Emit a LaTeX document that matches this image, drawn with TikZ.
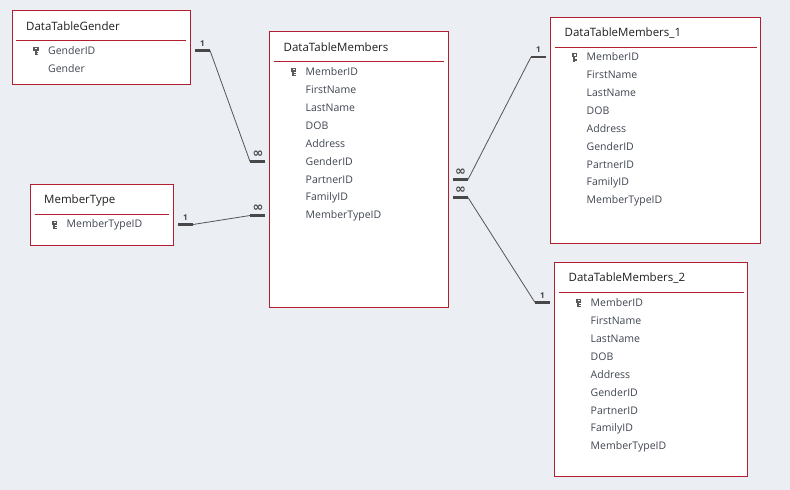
\documentclass[tikz,border=0pt]{standalone}
\usepackage{fontspec}
\setmainfont{Open Sans}
\newfontfamily\symfont{DejaVu Sans}
\usetikzlibrary{positioning}

\definecolor{canvas}{HTML}{EBEEF2}
\definecolor{frame}{HTML}{B01E30}
\definecolor{linkgray}{HTML}{555555}
\definecolor{fieldtext}{HTML}{404652}

\tikzset{
  tablebox/.style={draw=frame, fill=white, line width=0.9pt},
  tabletitle/.style={anchor=west, inner sep=0pt, text=black!88,
    font=\fontsize{11.5}{13}\selectfont},
  fieldname/.style={anchor=west, inner sep=0pt, text=fieldtext,
    font=\fontsize{10.5}{12}\selectfont},
  rule/.style={draw=frame, line width=0.8pt},
  relbar/.style={draw=linkgray!85!black, line width=2.6pt},
  relline/.style={draw=linkgray, line width=0.8pt},
  cardone/.style={anchor=south, inner sep=0pt, text=linkgray!80!black,
    font=\bfseries\fontsize{8}{8}\selectfont},
  cardmany/.style={anchor=south, inner sep=0pt, text=linkgray!80!black,
    font=\symfont\bfseries\fontsize{13}{13}\selectfont},
  keyicon/.pic={
    \fill[black!65] (-2.6,-4) rectangle (2.6,0);
    \fill[white] (-1,-2.9) rectangle (1,-1.2);
    \fill[black!65] (-1.2,0) rectangle (0.7,4.5);
    \fill[black!65] (0.7,1.5) rectangle (2,2.4);
    \fill[black!65] (0.7,3.2) rectangle (2,4.1);
  }
}

\begin{document}
\begin{tikzpicture}[x=1pt, y=-1pt]

	\fill[canvas] (0,0) rectangle (790,490);
	\useasboundingbox (0,0) rectangle (790,490);

	% DataTableGender
	\draw[tablebox] (12,10.5) rectangle (190,84) node[midway, inner sep=0pt] (gender) {};
	\node[tabletitle] (gender-title) at (26,26.5) {DataTableGender};
	\draw[rule] (16,40.5) -- (186,40.5);
	\pic at (36,50.5) {keyicon};
	\foreach \f [count=\i from 0] in {GenderID, Gender}
		\node[fieldname] (gender-\i) at (48,50.5+18*\i) {\f};

	% MemberType
	\draw[tablebox] (30.5,184.5) rectangle (173,245) node[midway, inner sep=0pt] (mtype) {};
	\node[tabletitle] (mtype-title) at (44,200.5) {MemberType};
	\draw[rule] (34.5,214.5) -- (169,214.5);
	\pic at (54.5,224.5) {keyicon};
	\node[fieldname] (mtype-0) at (66.5,224.5) {MemberTypeID};

	% DataTableMembers
	\draw[tablebox] (269.5,31.5) rectangle (448,307) node[midway, inner sep=0pt] (members) {};
	\node[tabletitle] (members-title) at (283.5,47.5) {DataTableMembers};
	\draw[rule] (273.5,61.5) -- (444,61.5);
	\pic at (293.5,71.5) {keyicon};
	\foreach \f [count=\i from 0] in {MemberID, FirstName, LastName, DOB, Address, GenderID, PartnerID, FamilyID, MemberTypeID}
		\node[fieldname] (members-\i) at (305.5,71.5+18*\i) {\f};

	% DataTableMembers_1
	\draw[tablebox] (550.5,17) rectangle (760.5,243) node[midway, inner sep=0pt] (membersa) {};
	\node[tabletitle] (membersa-title) at (564.5,33) {DataTableMembers\_1};
	\draw[rule] (554.5,47) -- (756.5,47);
	\pic at (574.5,57) {keyicon};
	\foreach \f [count=\i from 0] in {MemberID, FirstName, LastName, DOB, Address, GenderID, PartnerID, FamilyID, MemberTypeID}
		\node[fieldname] (membersa-\i) at (586.5,57+18*\i) {\f};

	% DataTableMembers_2
	\draw[tablebox] (554.5,262.5) rectangle (747.5,476) node[midway, inner sep=0pt] (membersb) {};
	\node[tabletitle] (membersb-title) at (568.5,278.5) {DataTableMembers\_2};
	\draw[rule] (558.5,292.5) -- (743.5,292.5);
	\pic at (578.5,302.5) {keyicon};
	\foreach \f [count=\i from 0] in {MemberID, FirstName, LastName, DOB, Address, GenderID, PartnerID, FamilyID, MemberTypeID}
		\node[fieldname] (membersb-\i) at (590.5,302.5+18*\i) {\f};

	% relationship ends
	\coordinate (gen-a) at (195,50.5);
	\coordinate (gen-b) at (210,50.5);
	\coordinate (memg-a) at (265,161.5);
	\coordinate (memg-b) at (250,161.5);
	\coordinate (mt-a) at (178,224.5);
	\coordinate (mt-b) at (193,224.5);
	\coordinate (memt-a) at (265,215.5);
	\coordinate (memt-b) at (250,215.5);
	\coordinate (memp-a) at (453,179.5);
	\coordinate (memp-b) at (468,179.5);
	\coordinate (ma-a) at (546,57);
	\coordinate (ma-b) at (531,57);
	\coordinate (memf-a) at (453,197.5);
	\coordinate (memf-b) at (468,197.5);
	\coordinate (mb-a) at (550,302.5);
	\coordinate (mb-b) at (535,302.5);

	\draw[relbar] (gen-a) -- (gen-b);
	\draw[relbar] (memg-a) -- (memg-b);
	\draw[relbar] (mt-a) -- (mt-b);
	\draw[relbar] (memt-a) -- (memt-b);
	\draw[relbar] (memp-a) -- (memp-b);
	\draw[relbar] (ma-a) -- (ma-b);
	\draw[relbar] (memf-a) -- (memf-b);
	\draw[relbar] (mb-a) -- (mb-b);

	\draw[relline] (gen-b) -- (memg-b);
	\draw[relline] (mt-b) -- (memt-b);
	\draw[relline] (memp-b) -- (ma-b);
	\draw[relline] (memf-b) -- (mb-b);

	\node[cardone] (gen-card) at (202.5,46.5) {1};
	\node[cardmany] (memg-card) at (258,158) {∞};
	\node[cardone] (mt-card) at (185.5,220.5) {1};
	\node[cardmany] (memt-card) at (258,212) {∞};
	\node[cardmany] (memp-card) at (460.5,176) {∞};
	\node[cardone] (ma-card) at (538.5,53) {1};
	\node[cardmany] (memf-card) at (460.5,194) {∞};
	\node[cardone] (mb-card) at (542.5,298.5) {1};

\end{tikzpicture}
\end{document}
